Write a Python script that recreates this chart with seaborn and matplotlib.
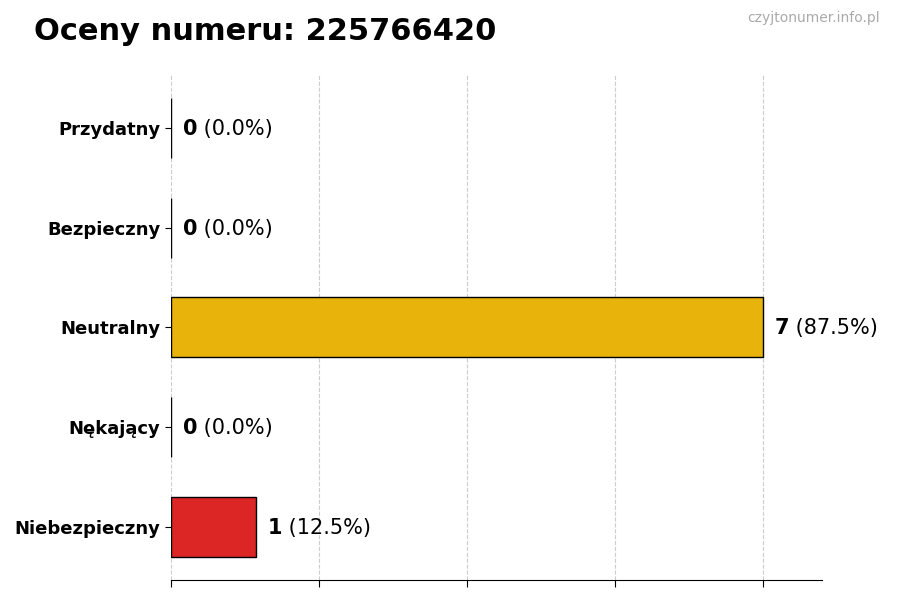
import numpy as np
import matplotlib
matplotlib.use('Agg')
import matplotlib.pyplot as plt
import seaborn as sns
import pandas as pd

categories = ['Przydatny', 'Bezpieczny', 'Neutralny', 'Nękający', 'Niebezpieczny']
counts = [0, 0, 7, 0, 1]
bar_colors = ['#22A34A', '#4ADE80', '#E8B30A', '#F97316', '#DC2626']
title = 'Oceny numeru: 225766420'
site = 'czyjtonumer.info.pl'

total = sum(counts)
df = pd.DataFrame({'kategoria': categories, 'liczba': counts})

sns.set_style('white')
plt.rcParams['font.family'] = ['DejaVu Sans']
plt.rcParams['text.color'] = 'black'
plt.rcParams['xtick.color'] = 'black'
plt.rcParams['ytick.color'] = 'black'

fig = plt.figure(figsize=(9, 6), dpi=100)
ax = fig.add_axes([0.19, 0.0333, 0.723, 0.842])

sns.barplot(data=df, y='kategoria', x='liczba', hue='kategoria',
            palette=bar_colors, saturation=1, orient='h', width=0.6,
            edgecolor='black', linewidth=1, legend=False, ax=ax)

xmax = max(counts)
ax.set_xlim(0, xmax * 1.1)
ax.set_ylim(len(categories) - 0.47, -0.53)
ax.set_xticks(np.linspace(0, xmax, 5))
ax.set_xticklabels([])
ax.grid(axis='x', linestyle='--', color='#cccccc', linewidth=0.8)
ax.set_axisbelow(True)
ax.set_xlabel('')
ax.set_ylabel('')

for side in ['top', 'right', 'left']:
    ax.spines[side].set_visible(False)
ax.spines['bottom'].set_color('black')
ax.tick_params(axis='x', bottom=True, length=5, color='black')
ax.tick_params(axis='y', left=True, length=4, color='black', labelsize=13,
               labelcolor='black')
for lbl in ax.get_yticklabels():
    lbl.set_fontweight('bold')

for i, c in enumerate(counts):
    pct = c / total * 100
    t = ax.text(c + 0.14, i + 0.01, str(c), va='center', ha='left',
                fontsize=15, fontweight='bold', color='black')
    ax.annotate(f' ({pct:.1f}%)', xy=(1, 0.5), xycoords=t,
                va='center', ha='left', fontsize=15, color='black')

fig.text(34 / 900, 1 - 31 / 600, title, fontsize=22, fontweight='bold',
         va='center', ha='left', color='black')
fig.text(880 / 900, 1 - 18 / 600, site, fontsize=10, color='#aaaaaa',
         va='center', ha='right')

fig.savefig('out.png', dpi=100)
